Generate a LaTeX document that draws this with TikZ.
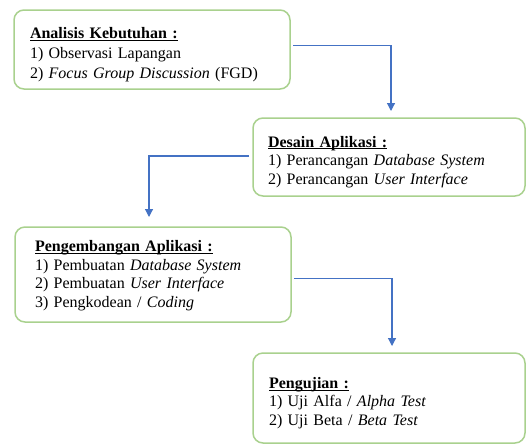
\documentclass[tikz,border=0pt]{standalone}
\usepackage{fontspec}
\setmainfont{Liberation Serif}
\usetikzlibrary{arrows.meta}

\definecolor{boxgreen}{HTML}{A9D18E}
\definecolor{flowblue}{HTML}{4472C4}

% underlined heading, the optional value lowers the text block
\newcommand{\judul}[2][21pt]{\rule{0pt}{#1}\underline{\raisebox{0pt}[\height][0pt]{\textbf{#2}}}}

\begin{document}
\begin{tikzpicture}[x=1pt,y=-1pt,
  box/.style={draw=boxgreen,line width=1.5pt,rounded corners=10pt,anchor=north west,
    outer sep=0pt,inner ysep=0pt,align=left,font=\fontsize{16}{18.5}\selectfont},
  flow/.style={draw=flowblue,line width=1.2pt,-{Triangle[length=8pt,width=8pt]}}]

  \useasboundingbox (0,0) rectangle (526,445);

  % Specification of nodes (position, etc.)
  \node[box,font=\fontsize{16}{20}\selectfont,inner xsep=16pt,text width=244pt,minimum height=79pt] (analisis) at (14,10)
    {\judul{Analisis Kebutuhan :}\\
     1) Observasi Lapangan\\
     2) \textit{Focus Group Discussion} (FGD)};
  \node[box,inner xsep=15pt,text width=242pt,minimum height=78pt] (desain) at (253,118)
    {\judul{Desain Aplikasi :}\\
     1) Perancangan \textit{Database System}\\
     2) Perancangan \textit{User Interface}};
  \node[box,inner xsep=20pt,text width=236pt,minimum height=95pt] (pengembangan) at (15,227)
    {\judul[13pt]{Pengembangan Aplikasi :}\\
     1) Pembuatan \textit{Database System}\\
     2) Pembuatan \textit{User Interface}\\
     3) Pengkodean / \textit{Coding}};
  \node[box,inner xsep=16pt,text width=240pt,minimum height=90pt] (pengujian) at (253,353)
    {\judul{Pengujian :}\\
     1) Uji Alfa / \textit{Alpha Test}\\
     2) Uji Beta / \textit{Beta Test}};

  % Flow between the stages
  \draw[flow,shorten <=3pt,shorten >=7pt] ([yshift=4pt]analisis.east) -| ([xshift=2pt]desain.north);
  \draw[flow,shorten <=4pt,shorten >=10pt] ([yshift=1pt]desain.west) -| ([xshift=-4pt]pengembangan.north);
  \draw[flow,shorten <=3pt,shorten >=7pt] ([yshift=-4pt]pengembangan.east) -| ([xshift=3pt]pengujian.north);

\end{tikzpicture}
\end{document}
